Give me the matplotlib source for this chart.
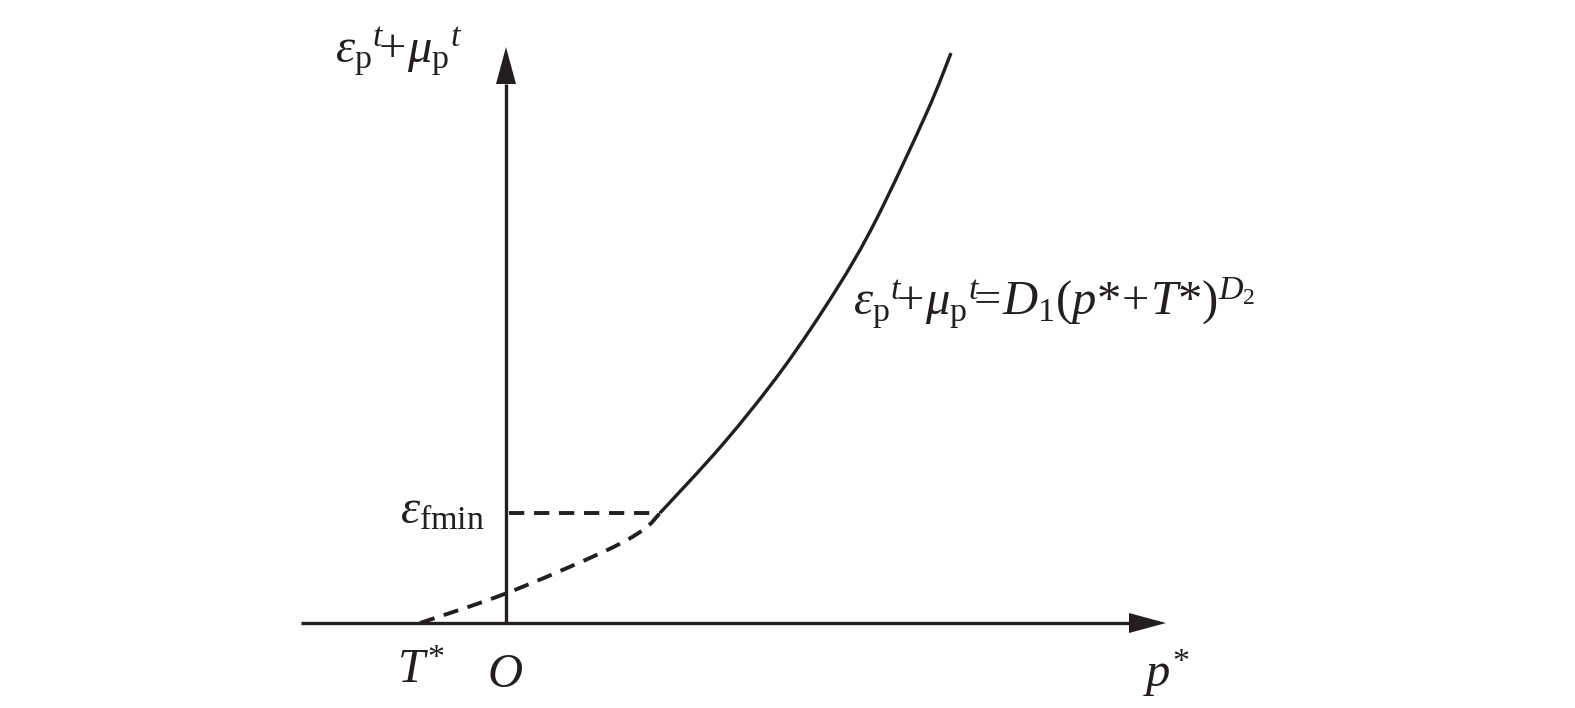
import matplotlib
matplotlib.use("Agg")
import matplotlib.pyplot as plt
import numpy as np
from matplotlib.path import Path
from matplotlib.patches import PathPatch

plt.rcParams['font.family'] = ['Liberation Serif', 'DejaVu Serif']
plt.rcParams['mathtext.fontset'] = 'custom'
plt.rcParams['mathtext.rm'] = 'Liberation Serif'
plt.rcParams['mathtext.it'] = 'Liberation Serif:italic'
plt.rcParams['mathtext.bf'] = 'Liberation Serif:bold'
plt.rcParams['lines.scale_dashes'] = False

# ---- data (schematic units, origin at O) ----
solid_p = [1.54, 2.17, 2.76, 3.30, 3.70, 4.21, 4.45]
solid_y = [1.10, 1.79, 2.53, 3.33, 4.03, 5.11, 5.70]
dash_p = [-0.86, 0.01, 0.97, 1.37, 1.54]
dash_y = [0.00, 0.30, 0.71, 0.93, 1.10]
eps_fmin = 1.10
x_axis_start, x_axis_end = -2.05, 6.60
y_axis_end = 5.76

color = '#231f20'
lw_axis = 2.4
lw_curve = 2.4
lw_dash = 2.8
dash = (0, (11, 7))


def smooth_path(xs, ys):
    """Bezier path (Catmull-Rom handles) passing through the given points."""
    pts = np.column_stack([xs, ys]).astype(float)
    n = len(pts)
    verts = [tuple(pts[0])]
    codes = [Path.MOVETO]
    for i in range(n - 1):
        p0 = pts[max(i - 1, 0)]
        p1 = pts[i]
        p2 = pts[i + 1]
        p3 = pts[min(i + 2, n - 1)]
        c1 = p1 + (p2 - p0) / 6.0
        c2 = p2 - (p3 - p1) / 6.0
        verts += [tuple(c1), tuple(c2), tuple(p2)]
        codes += [Path.CURVE4] * 3
    return Path(verts, codes)


fig = plt.figure(figsize=(15.75, 7.08), dpi=100)
ax = fig.add_axes([0, 0, 1, 1])
ax.set_xlim(-5.06, 10.69)
ax.set_ylim(-0.85, 6.23)
ax.axis('off')

# axes lines with arrowheads
head_len, head_hw = 0.37, 0.10
ax.plot([x_axis_start, x_axis_end - head_len], [0, 0], color=color, lw=lw_axis,
        solid_capstyle='butt')
ax.fill([x_axis_end - head_len, x_axis_end, x_axis_end - head_len],
        [head_hw, 0, -head_hw], color=color, lw=0)
ax.plot([0, 0], [0, y_axis_end - head_len], color=color, lw=lw_axis,
        solid_capstyle='butt')
ax.fill([-head_hw, 0, head_hw],
        [y_axis_end - head_len, y_axis_end, y_axis_end - head_len], color=color, lw=0)

# curves
ax.add_patch(PathPatch(smooth_path(solid_p, solid_y), fill=False, edgecolor=color,
                       lw=lw_curve, capstyle='butt', joinstyle='round'))
ax.add_patch(PathPatch(smooth_path(dash_p, dash_y), fill=False, edgecolor=color,
                       lw=lw_dash, linestyle=dash, capstyle='butt'))
ax.plot([0.03, solid_p[0]], [eps_fmin, eps_fmin], color=color, lw=lw_dash,
        linestyle=dash, dash_capstyle='butt')

fs = 35
ax.text(-1.71, 5.61, r'$\varepsilon_{\mathrm{p}}{}^{t}\!\!+\!\mu_{\mathrm{p}}{}^{t}$',
        fontsize=fs, ha='left', va='baseline', color=color)
ax.text(3.47, 3.08,
        r'$\varepsilon_{\mathrm{p}}{}^{t}\!\!+\!\mu_{\mathrm{p}}{}^{t}\!\!=\!D_{1}(p\mathrm{*}\!+\!T\mathrm{*})^{D_{2}}$',
        fontsize=fs, ha='left', va='baseline', color=color)
ax.text(-0.21, 1.00, r'$\varepsilon_{\mathrm{fmin}}$', fontsize=fs, ha='right',
        va='baseline', color=color)
ax.text(-1.09, -0.60, r'$T^{*}$', fontsize=fs, ha='left', va='baseline', color=color)
ax.text(-0.19, -0.64, r'$O$', fontsize=fs, ha='left', va='baseline', color=color)
ax.text(6.37, -0.64, r'$p^{*}$', fontsize=fs, ha='left', va='baseline', color=color)

fig.savefig('out.png', dpi=100)
